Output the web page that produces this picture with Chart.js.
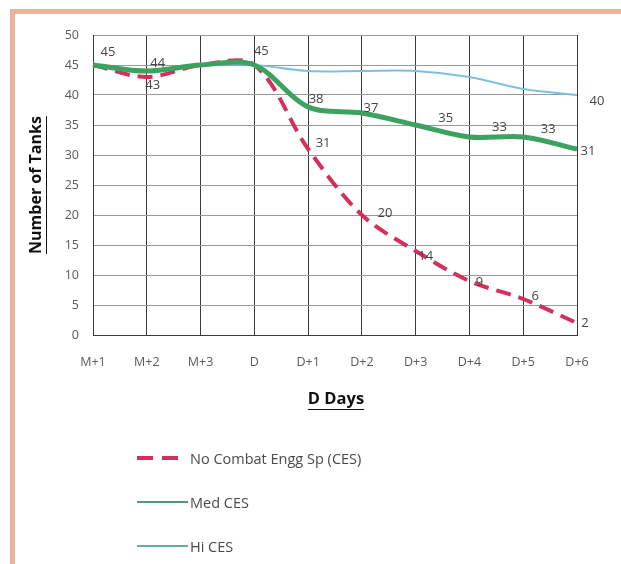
<!DOCTYPE html>
<html>
<head>
<meta charset="utf-8">
<title>Number of Tanks by Day</title>
<script src="https://cdn.jsdelivr.net/npm/chart.js@4.4.1/dist/chart.umd.min.js"></script>
<style>
  html, body { margin: 0; padding: 0; background: #ffffff; }
  body { width: 621px; height: 564px; position: relative; overflow: hidden; font-family: "Open Sans", "Liberation Sans", sans-serif; }
  #frame { position: absolute; left: 10px; top: 9px; right: -10px; bottom: -10px;
           border-top: 5px solid #e8b59c; border-left: 5px solid #e8b59c; }
  #chart { position: absolute; left: 0; top: 0; }
  #legend { position: absolute; left: 137px; top: 446px; }
  .item { position: absolute; left: 0; height: 24px; display: flex; align-items: center; white-space: nowrap;
          font-size: 14.5px; color: #4a4a4a; }
  .item svg { margin-right: 2px; }
</style>
</head>
<body>
<div id="frame"></div>
<canvas id="chart" width="621" height="564"></canvas>
<div id="legend"></div>
<script>
// Day categories along the bottom axis
const days = ['M+1', 'M+2', 'M+3', 'D', 'D+1', 'D+2', 'D+3', 'D+4', 'D+5', 'D+6'];

// Tanks remaining for each level of combat engineer support
const noCes = [45, 43, 45, 45, 31, 20, 14, 9, 6, 2];
const medCes = [45, 44, 45, 45, 38, 37, 35, 33, 33, 31];
const hiCes = [45, 44, 45, 45, 44, 44, 44, 43, 41, 40];

const seriesNames = ['No Combat Engg Sp (CES)', 'Med CES', 'Hi CES'];

// Y axis range and step
const yMin = 0, yMax = 50, yStep = 5;

// Which points carry a value label, and where the label sits next to the point
const noCesLabelAt = [null, [6, 8], null, null, [15, -6], [23, -2], [10, 5], [10, 1], [12, -3], [8, 0]];
const medCesLabelAt = [[15, -13], [11, -8], null, [7, -14], [8, -8], [9, -5], [30, -7], [30, -10], [25, -8], [11, 2]];
const hiCesLabelAt = [null, null, null, null, null, null, null, null, null, [20, 6]];

const labelPlacement = [noCesLabelAt, medCesLabelAt, hiCesLabelAt];

const PLOT_LEFT = 93, PLOT_RIGHT = 577, PLOT_TOP = 35, PLOT_BOTTOM = 335;
const CANVAS_W = 621, CANVAS_H = 564;
const FONT = '"Open Sans", "Liberation Sans", sans-serif';

// Draws the value next to chosen points
const valueLabels = {
  id: 'valueLabels',
  afterDatasetsDraw(chart) {
    const ctx = chart.ctx;
    ctx.save();
    ctx.font = '13px ' + FONT;
    ctx.fillStyle = '#444444';
    ctx.textAlign = 'center';
    ctx.textBaseline = 'middle';
    chart.data.datasets.forEach((ds, i) => {
      const meta = chart.getDatasetMeta(i);
      labelPlacement[i].forEach((off, j) => {
        if (!off) return;
        const pt = meta.data[j];
        ctx.fillText(String(ds.data[j]), pt.x + off[0], pt.y + off[1]);
      });
    });
    ctx.restore();
  }
};

// Underlined, bold axis titles
const axisTitles = {
  id: 'axisTitles',
  afterDraw(chart) {
    const ctx = chart.ctx;
    const area = chart.chartArea;
    ctx.save();
    ctx.fillStyle = '#111111';
    ctx.strokeStyle = '#111111';
    ctx.lineWidth = 1;
    ctx.textAlign = 'center';
    ctx.textBaseline = 'middle';

    ctx.font = 'bold 16.5px ' + FONT;
    const xTitle = 'D Days';
    const xc = (area.left + area.right) / 2 + 1;
    const yc = area.bottom + 64;
    ctx.fillText(xTitle, xc, yc);
    let w = ctx.measureText(xTitle).width;
    ctx.beginPath();
    ctx.moveTo(xc - w / 2, yc + 10.5);
    ctx.lineTo(xc + w / 2, yc + 10.5);
    ctx.stroke();

    ctx.font = 'bold 16px ' + FONT;
    const yTitle = 'Number of Tanks';
    ctx.translate(36, (area.top + area.bottom) / 2);
    ctx.rotate(-Math.PI / 2);
    ctx.fillText(yTitle, 0, 0);
    w = ctx.measureText(yTitle).width;
    ctx.beginPath();
    ctx.moveTo(-w / 2, 10.5);
    ctx.lineTo(w / 2, 10.5);
    ctx.stroke();
    ctx.restore();
  }
};

const chart = new Chart(document.getElementById('chart'), {
  type: 'line',
  data: {
    labels: days,
    datasets: [
      {
        label: seriesNames[0], data: noCes,
        borderColor: '#d52f5e', borderWidth: 4, borderDash: [15, 8],
        tension: 0.33, pointRadius: 0, fill: false, order: 1
      },
      {
        label: seriesNames[1], data: medCes,
        borderColor: '#3ca25f', borderWidth: 5,
        tension: 0.33, pointRadius: 0, fill: false, order: 0
      },
      {
        label: seriesNames[2], data: hiCes,
        borderColor: '#7ebfe0', borderWidth: 2,
        tension: 0.33, pointRadius: 0, fill: false, order: 2
      }
    ]
  },
  options: {
    responsive: false,
    animation: false,
    devicePixelRatio: 1,
    layout: { padding: { top: PLOT_TOP, right: CANVAS_W - PLOT_RIGHT, bottom: 0, left: 0 } },
    plugins: {
      legend: { display: false },
      tooltip: { enabled: false }
    },
    scales: {
      x: {
        type: 'category',
        offset: false,
        grid: { color: '#3a3a3a', lineWidth: 1, drawTicks: false },
        border: { color: '#3a3a3a', width: 1 },
        ticks: {
          padding: 20, color: '#5a5a5a', maxRotation: 0, autoSkip: false,
          font: { family: FONT, size: 12.5 }
        },
        afterFit(scale) { scale.height = CANVAS_H - PLOT_BOTTOM; }
      },
      y: {
        min: yMin, max: yMax,
        grid: { color: '#9a9a9a', lineWidth: 1, drawTicks: false },
        border: { color: '#3a3a3a', width: 1 },
        ticks: {
          stepSize: yStep, padding: 14, color: '#5a5a5a',
          font: { family: FONT, size: 12.5 }
        },
        afterFit(scale) { scale.width = PLOT_LEFT; }
      }
    }
  },
  plugins: [valueLabels, axisTitles]
});

// Legend stacked below the chart, built from the chart's own datasets
const legend = document.getElementById('legend');
chart.data.datasets.forEach((ds, i) => {
  const row = document.createElement('div');
  row.className = 'item';
  row.style.top = (i * 44) + 'px';
  const dashed = !!ds.borderDash;
  const stroke = dashed ? ds.borderColor : (i === 1 ? '#4f9a78' : '#6aa7a8');
  const sw = dashed ? 4 : 2;
  const dash = dashed ? 'stroke-dasharray="16 9"' : '';
  row.innerHTML =
    '<svg width="51" height="10"><line x1="0" y1="5" x2="' + (dashed ? 41 : 51) + '" y2="5" stroke="' + stroke +
    '" stroke-width="' + sw + '" ' + dash + '/></svg>';
  const span = document.createElement('span');
  span.textContent = ds.label;
  row.appendChild(span);
  legend.appendChild(row);
});
</script>
</body>
</html>
